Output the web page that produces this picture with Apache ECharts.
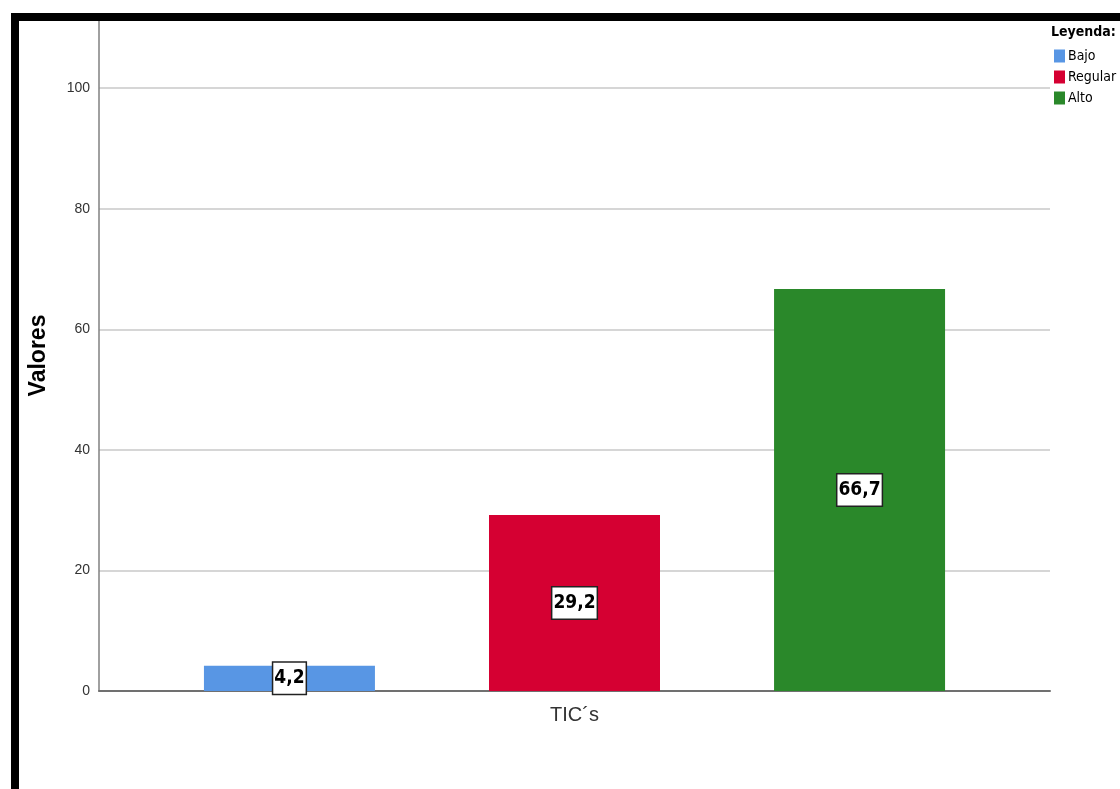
<!DOCTYPE html>
<html>
<head>
<meta charset="utf-8">
<script src="https://cdn.jsdelivr.net/npm/echarts@6/dist/echarts.min.js"></script>
<style>
html,body{margin:0;padding:0;background:#fff;}
#chart{width:1120px;height:789px;}
</style>
</head>
<body>
<div id="chart"></div>
<script>
const categories = ['TIC´s'];
const seriesNames = ['Bajo', 'Regular', 'Alto'];
const seriesValues = [[4.2], [29.2], [66.7]];
const seriesColors = ['#5896e4', '#d50032', '#2a882a'];
const yTicks = [0, 20, 40, 60, 80, 100];

const NARROW = '"Liberation Sans Narrow", "DejaVu Sans Condensed", "Arial Narrow", sans-serif';

const chart = echarts.init(document.getElementById('chart'));
const option = {
  backgroundColor: '#ffffff',
  animation: false,
  title: {
    text: 'Leyenda:',
    left: 1051, top: 25, padding: 0,
    textStyle: { fontFamily: NARROW, fontWeight: 'bold', fontSize: 14, color: '#000' }
  },
  legend: {
    orient: 'vertical', left: 1054, top: 49, padding: 0,
    itemWidth: 11, itemHeight: 13, itemGap: 7,
    icon: 'rect',
    textStyle: { fontFamily: NARROW, fontSize: 14, color: '#000', padding: [0, 0, 0, -2] },
    data: seriesNames
  },
  grid: { left: 99, right: 70, top: 20, bottom: 98, containLabel: false },
  xAxis: {
    type: 'category', data: categories,
    axisLine: { lineStyle: { color: '#707070', width: 2 } },
    axisTick: { show: false },
    axisLabel: { fontFamily: 'Liberation Sans, Arial', fontSize: 20, color: '#333', margin: 14 }
  },
  yAxis: {
    type: 'value', min: 0, max: 111.3, interval: 20,
    name: 'Valores', nameLocation: 'middle', nameGap: 49,
    nameTextStyle: { fontFamily: 'Liberation Sans, Arial', fontWeight: 'bold', fontSize: 23, color: '#000' },
    axisLine: { show: true, lineStyle: { color: '#808080', width: 1.5 } },
    axisTick: { show: false },
    axisLabel: {
      fontFamily: 'Liberation Sans, Arial', fontSize: 14, color: '#333', margin: 9,
      formatter: function (v) { return yTicks.indexOf(v) >= 0 ? String(v) : ''; }
    },
    splitLine: { show: true, lineStyle: { color: '#c8c8c8', width: 1.5 } }
  },
  series: seriesNames.map(function (name, i) {
    return {
      name: name, type: 'bar', data: seriesValues[i],
      barWidth: 171, barGap: '66.7%',
      itemStyle: { color: seriesColors[i] },
      label: {
        show: true, position: 'inside',
        formatter: function (p) { return String(p.value).replace('.', ','); },
        fontFamily: NARROW, fontWeight: 'bold', fontSize: 19, color: '#000',
        backgroundColor: '#fff', borderColor: '#222', borderWidth: 1.5,
        padding: [7, 1, 5, 1]
      }
    };
  }),
  graphic: [
    { type: 'rect', z: 100, shape: { x: 11, y: 13, width: 1109, height: 8 }, style: { fill: '#000' } },
    { type: 'rect', z: 100, shape: { x: 11, y: 13, width: 8, height: 776 }, style: { fill: '#000' } }
  ]
};
chart.setOption(option);
</script>
</body>
</html>
